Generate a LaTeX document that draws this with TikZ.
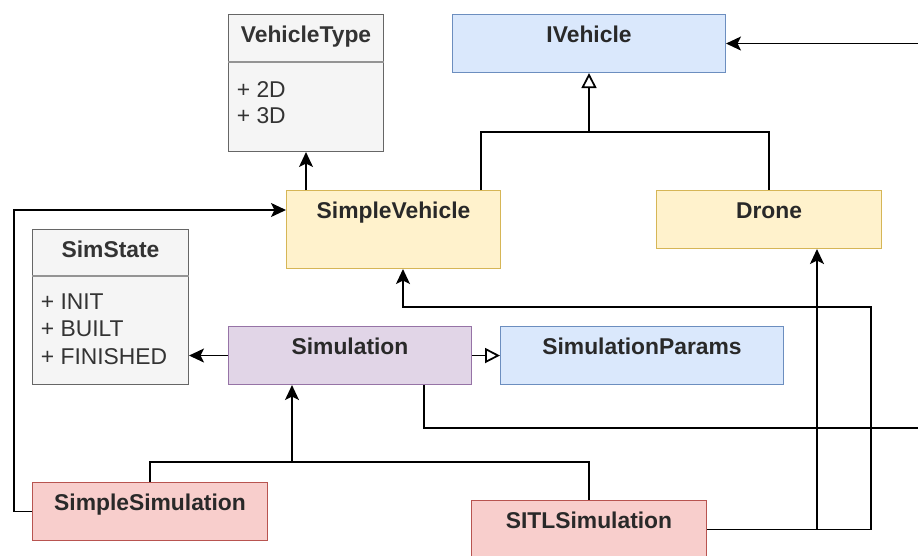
\documentclass[tikz,border=0pt]{standalone}
\usepackage{fontspec}
\setmainfont{Liberation Sans}
\usetikzlibrary{arrows.meta}

\definecolor{grayfill}{HTML}{F5F5F5}
\definecolor{graydraw}{HTML}{666666}
\definecolor{bluefill}{HTML}{DAE8FC}
\definecolor{bluedraw}{HTML}{6C8EBF}
\definecolor{yellowfill}{HTML}{FFF2CC}
\definecolor{yellowdraw}{HTML}{D6B656}
\definecolor{purplefill}{HTML}{E1D5E7}
\definecolor{purpledraw}{HTML}{9673A6}
\definecolor{redfill}{HTML}{F8CECC}
\definecolor{reddraw}{HTML}{B85450}
\definecolor{darktext}{HTML}{333333}

\tikzset{
  cls/.style={draw, line width=0.6pt, anchor=north west, inner ysep=0pt,
    text height=0.56cm, text depth=0.6cm, text=darktext!80!black,
    font=\fontsize{13}{15}\selectfont\bfseries},
  bluecls/.style={cls, fill=bluefill, draw=bluedraw},
  yellowcls/.style={cls, fill=yellowfill, draw=yellowdraw},
  purplecls/.style={cls, fill=purplefill, draw=purpledraw},
  redcls/.style={cls, fill=redfill, draw=reddraw},
  enumbox/.style={draw=graydraw, fill=grayfill, line width=0.6pt, anchor=north west},
  enumhead/.style={anchor=north, inner ysep=0pt, text height=0.56cm, text depth=0pt,
    text=darktext, font=\fontsize{13}{15}\selectfont\bfseries},
  enumline/.style={draw=graydraw!70, line width=0.6pt},
  attr/.style={anchor=base west, inner sep=0pt, text=darktext, font=\fontsize{13}{15}\selectfont},
  arr/.style={-{Stealth[length=0.3cm, width=0.28cm, inset=0.07cm]}},
  inh/.style={-{Triangle[open, length=0.3cm, width=0.3cm, fill=white]}}
}

\begin{document}
\begin{tikzpicture}[x=0.02cm, y=-0.02cm, line width=1pt]
  \useasboundingbox[fill=white] (0,0) rectangle (918,555);

  % enumerations
  \node[enumbox, minimum width=3.1cm, minimum height=2.74cm] (vtype) at (228,14) {};
  \node[enumhead] (vtypehead) at (vtype.north) {VehicleType};
  \draw[enumline] ([yshift=-0.96cm]vtype.north west) -- ([yshift=-0.96cm]vtype.north east);
  \node[attr] (vt1) at (236,97) {+ 2D};
  \node[attr] (vt2) at (236,123) {+ 3D};

  \node[enumbox, minimum width=3.12cm, minimum height=3.1cm] (simstate) at (32,229) {};
  \node[enumhead] (simstatehead) at (simstate.north) {SimState};
  \draw[enumline] ([yshift=-0.94cm]simstate.north west) -- ([yshift=-0.94cm]simstate.north east);
  \node[attr] (st1) at (40,309) {+ INIT};
  \node[attr] (st2) at (40,336) {+ BUILT};
  \node[attr] (st3) at (40,364) {+ FINISHED};

  % classes
  \node[bluecls, minimum width=5.46cm] (ivehicle) at (452,14) {IVehicle};
  \node[yellowcls, minimum width=4.28cm, text depth=1.0cm] (sveh) at (286,190) {SimpleVehicle};
  \node[yellowcls, minimum width=4.5cm] (drone) at (656,190) {Drone};
  \node[purplecls, minimum width=4.86cm] (sim) at (228,326) {Simulation};
  \node[bluecls, minimum width=5.66cm] (params) at (500,326) {SimulationParams};
  \node[redcls, minimum width=4.7cm] (ssim) at (32,482) {SimpleSimulation};
  \node[redcls, minimum width=4.7cm] (sitl) at (471,500) {SITLSimulation};

  % connectors
  \coordinate (eastin) at (ivehicle.east -| 918,0);
  \coordinate (eastout) at (918,428);
  \coordinate (simin) at ([xshift=1.28cm]sim.south west);
  \coordinate (svehin) at ([xshift=2.34cm]sveh.south west);
  \coordinate (dronein) at ([xshift=3.22cm]drone.south west);

  \draw[arr] ([xshift=0.4cm]sveh.north west) -- ([xshift=0.4cm]sveh.north west |- vtype.south);
  \draw ([xshift=-0.4cm]sveh.north east) |- (ivehicle.south |- 0,132) -| (drone.north);
  \draw[inh] (ivehicle.south |- 0,132) -- (ivehicle.south);
  \draw[arr] (eastin) -- (ivehicle.east);
  \draw[arr] (ssim.west) -| (14,300) |- ([yshift=-0.4cm]sveh.north west);
  \draw[arr] (sim.west) -- (sim.west -| simstate.east);
  \draw[inh] (sim.east) -- (params.west);
  \draw ([xshift=-0.96cm]sim.south east) |- (eastout);
  \draw (ssim.north) |- (sitl.north |- 0,462) -- (sitl.north);
  \draw[arr] (simin |- 0,462) -- (simin);
  \draw[arr] (sitl.east) -| (871,307) -| (svehin);
  \draw[arr] (sitl.east -| dronein) -- (dronein);
\end{tikzpicture}
\end{document}
